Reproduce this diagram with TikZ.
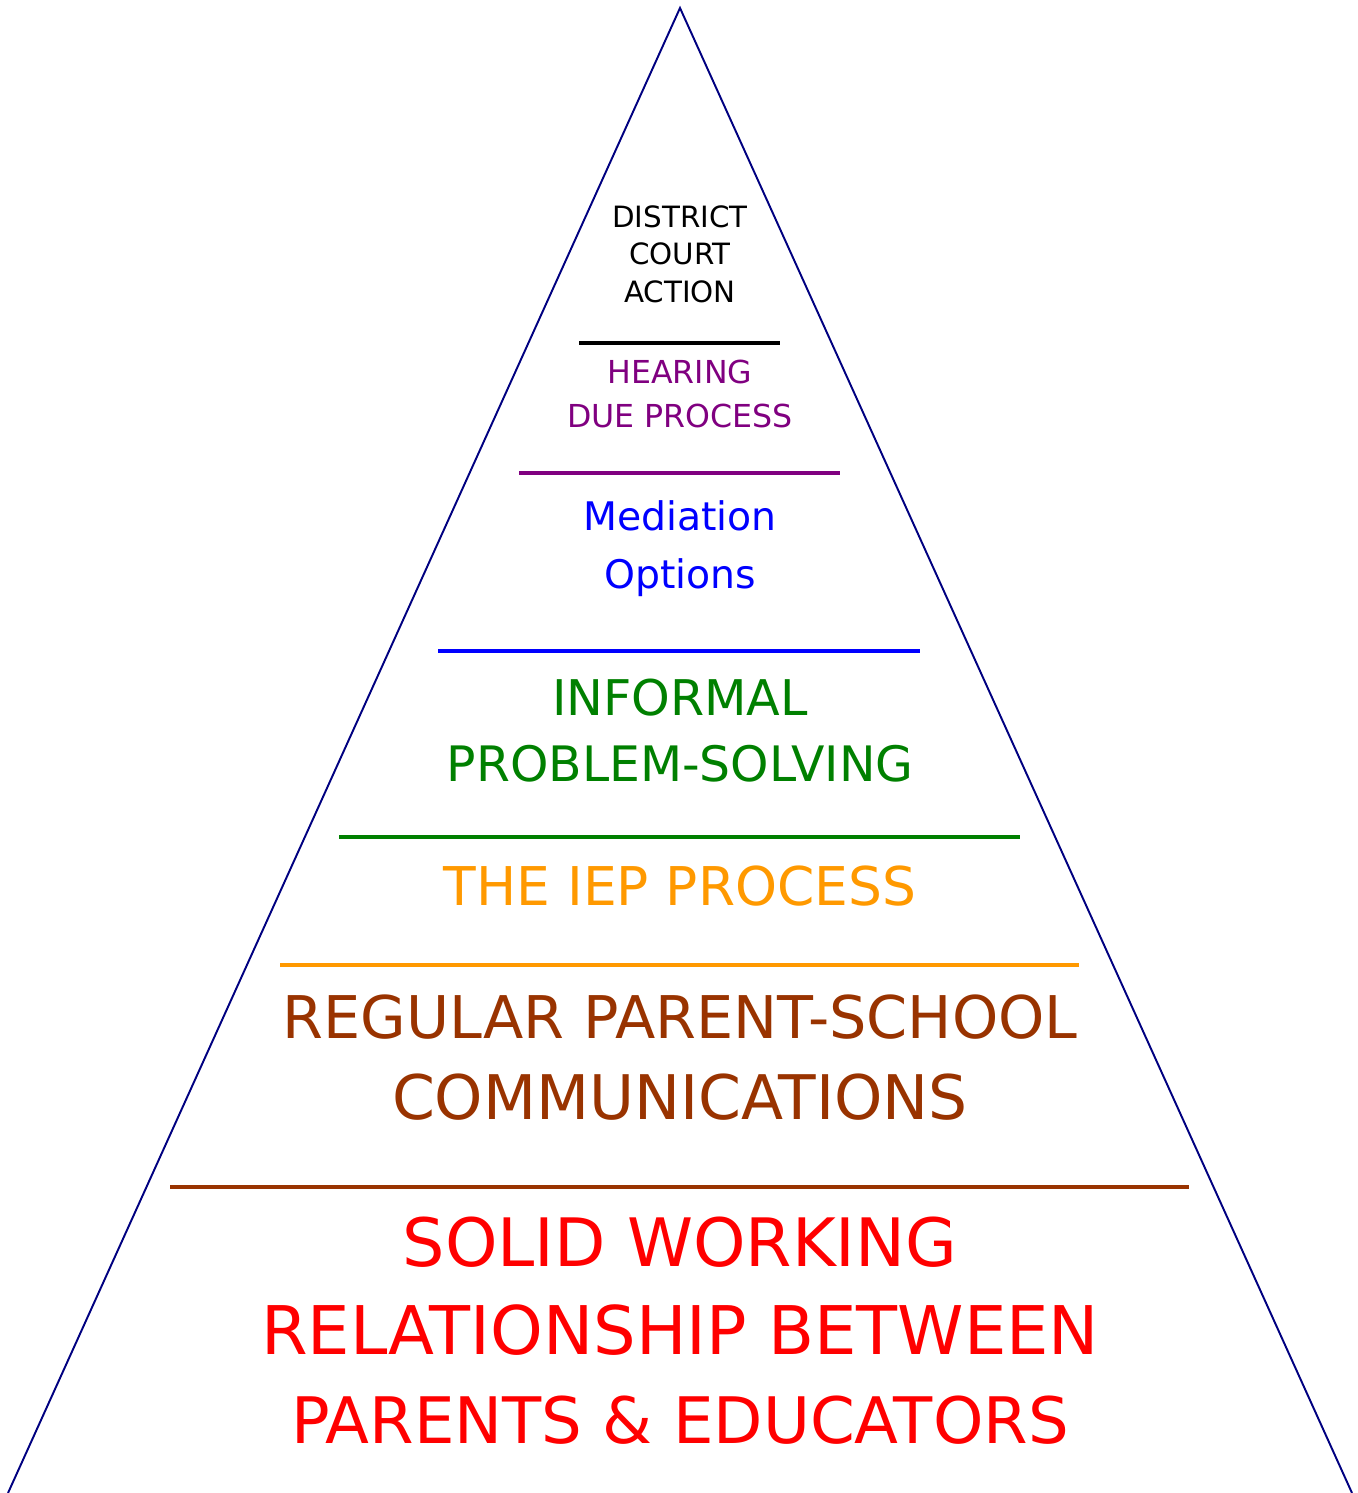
\documentclass[tikz,border=0pt]{standalone}
\usepackage{fontspec}
\setmainfont{DejaVu Sans}
\definecolor{pyrnavy}{RGB}{0,0,128}
\definecolor{pyrpurple}{RGB}{128,0,128}
\definecolor{pyrblue}{RGB}{0,0,255}
\definecolor{pyrgreen}{RGB}{0,128,0}
\definecolor{pyrorange}{RGB}{255,153,0}
\definecolor{pyrbrown}{RGB}{153,51,0}
\definecolor{pyrred}{RGB}{255,0,0}
\tikzset{
	lvl/.style={anchor=base,inner sep=0pt},
	sep/.style={line width=2.1pt}
}
\begin{document}
\begin{tikzpicture}[x=0.02cm,y=-0.02cm]
		\useasboundingbox (0,0) rectangle (1357,1493);
		\coordinate (apex) at (680,8);
		\coordinate (bl) at (8,1493);
		\coordinate (br) at (1352,1493);
		\draw[pyrnavy,line width=1.1pt] (bl) -- (apex) -- (br);
		\draw[sep,black] (579,343) -- (780,343);
		\draw[sep,pyrpurple] (519,473) -- (840,473);
		\draw[sep,pyrblue] (438,651) -- (920,651);
		\draw[sep,pyrgreen] (339,837) -- (1020,837);
		\draw[sep,pyrorange] (280,965) -- (1079,965);
		\draw[sep,pyrbrown] (170,1187) -- (1189,1187);
		\node[lvl,font=\fontsize{16.7}{20}\selectfont] (dc1) at (680,228) {DISTRICT};
		\node[lvl,font=\fontsize{16.7}{20}\selectfont] (dc2) at (680,265) {COURT};
		\node[lvl,font=\fontsize{16.7}{20}\selectfont] (dc3) at (680,302) {ACTION};
		\node[lvl,pyrpurple,font=\fontsize{18}{22}\selectfont] (hr1) at (680,383) {HEARING};
		\node[lvl,pyrpurple,font=\fontsize{18}{22}\selectfont] (hr2) at (680,427) {DUE PROCESS};
		\node[lvl,pyrblue,font=\fontsize{22.4}{27}\selectfont] (md1) at (680,530) {Mediation};
		\node[lvl,pyrblue,font=\fontsize{22.4}{27}\selectfont] (md2) at (680,588) {Options};
		\node[lvl,pyrgreen,font=\fontsize{28}{33}\selectfont] (ip1) at (680,715) {INFORMAL};
		\node[lvl,pyrgreen,font=\fontsize{27.8}{33}\selectfont] (ip2) at (680,781) {PROBLEM-SOLVING};
		\node[lvl,pyrorange,font=\fontsize{30.4}{36}\selectfont] (iep) at (680,905) {THE IEP PROCESS};
		\node[lvl,pyrbrown,font=\fontsize{33.5}{40}\selectfont] (rc1) at (680,1038) {REGULAR PARENT-SCHOOL};
		\node[lvl,pyrbrown,font=\fontsize{35}{40}\selectfont] (rc2) at (680,1119) {COMMUNICATIONS};
		\node[lvl,pyrred,font=\fontsize{38}{45}\selectfont] (sw1) at (680,1266) {SOLID WORKING};
		\node[lvl,pyrred,font=\fontsize{38.2}{45}\selectfont] (sw2) at (680,1354) {RELATIONSHIP BETWEEN};
		\node[lvl,pyrred,font=\fontsize{36.5}{45}\selectfont] (sw3) at (680,1443) {PARENTS \& EDUCATORS};
	\end{tikzpicture}
\end{document}
